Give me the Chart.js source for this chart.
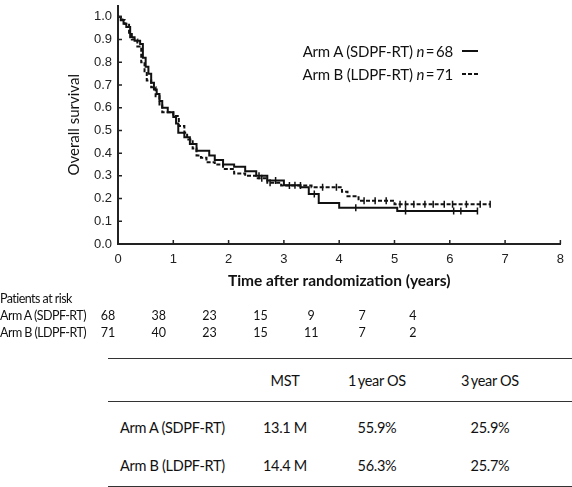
<!DOCTYPE html>
<html>
<head>
<meta charset="utf-8">
<script src="https://cdn.jsdelivr.net/npm/chart.js@4.4.1/dist/chart.umd.min.js"></script>
<style>
html, body { margin: 0; padding: 0; background: #fff; }
#wrap { position: relative; width: 572px; height: 487px; overflow: hidden; font-family: Lato, "Open Sans", sans-serif; color: #111; }
#km { position: absolute; left: 0; top: 0; }
.t { position: absolute; white-space: nowrap; line-height: 1; }
.c { transform: translate(-50%, -50%); }
.l { transform: translate(0, -50%); }
.r { transform: translate(-100%, -50%); }
.hr { position: absolute; left: 108px; width: 464px; height: 0; border-top: 1.5px solid #333; }
</style>
</head>
<body>
<div id="wrap">
  <canvas id="km" width="572" height="292"></canvas>
</div>
<script>
// Kaplan-Meier step values (time in years, survival)
const armA_t = [0, 0.05, 0.1, 0.15, 0.22, 0.3, 0.4, 0.45, 0.5, 0.55, 0.6, 0.65, 0.7, 0.75, 0.8, 0.9, 1.0, 1.05, 1.09, 1.2, 1.3, 1.42, 1.65, 1.75, 1.9, 2.1, 2.3, 2.5, 2.7, 3.0, 3.3, 3.45, 3.63, 4.0, 5.05, 6.5];
const armA_s = [1, 0.985, 0.97, 0.955, 0.91, 0.895, 0.88, 0.82, 0.78, 0.75, 0.71, 0.68, 0.66, 0.63, 0.60, 0.58, 0.559, 0.53, 0.49, 0.47, 0.44, 0.41, 0.39, 0.37, 0.35, 0.34, 0.32, 0.30, 0.28, 0.259, 0.25, 0.22, 0.18, 0.16, 0.145, 0.145];
const armB_t = [0, 0.08, 0.12, 0.2, 0.25, 0.35, 0.42, 0.48, 0.52, 0.6, 0.68, 0.75, 0.8, 1.0, 1.1, 1.2, 1.25, 1.35, 1.42, 1.5, 1.6, 1.75, 1.9, 2.1, 2.3, 2.5, 2.7, 2.95, 3.5, 4.05, 4.15, 4.35, 5.0, 6.73];
const armB_s = [1, 0.986, 0.97, 0.93, 0.90, 0.87, 0.80, 0.76, 0.72, 0.69, 0.65, 0.61, 0.58, 0.563, 0.52, 0.49, 0.46, 0.42, 0.39, 0.38, 0.36, 0.35, 0.33, 0.31, 0.30, 0.29, 0.27, 0.257, 0.25, 0.23, 0.21, 0.19, 0.175, 0.175];
// censoring times
const censorA = [2.55, 2.85, 3.2, 3.55, 4.3, 5.2, 6.07, 6.2, 6.5];
const censorB = [2.6, 2.75, 3.1, 3.3, 3.7, 3.95, 4.45, 4.65, 4.85, 5.1, 5.2, 5.35, 5.55, 5.7, 5.9, 6.05, 6.3, 6.55, 6.73];

const xTicks = [0, 1, 2, 3, 4, 5, 6, 7, 8];
const yTicks = [0, 0.1, 0.2, 0.3, 0.4, 0.5, 0.6, 0.7, 0.8, 0.9, 1.0];

const armLabels = ["Arm A (SDPF-RT)", "Arm B (LDPF-RT)"];
const armN = [68, 71];
const riskA = [68, 38, 23, 15, 9, 7, 4];
const riskB = [71, 40, 23, 15, 11, 7, 2];
const statHeaders = ["MST", "1\u2009year OS", "3\u2009year OS"];
const statA = ["13.1 M", "55.9%", "25.9%"];
const statB = ["14.4 M", "56.3%", "25.7%"];

function toPoints(ts, ss) {
    return ts.map((t, i) => ({ x: t, y: ss[i] }));
}
function survAt(ts, ss, t) {
    let s = ss[0];
    for (let i = 0; i < ts.length; i++) if (ts[i] <= t) s = ss[i];
    return s;
}
function censorPoints(ts, ss, cs) {
    return cs.map(c => ({ x: c, y: survAt(ts, ss, c) }));
}

// inward tick marks on both axes
const innerTicks = {
    id: "innerTicks",
    afterDraw(chart) {
        const { ctx, chartArea, scales } = chart;
        ctx.save();
        ctx.strokeStyle = "#222";
        ctx.lineWidth = 1.5;
        ctx.beginPath();
        xTicks.forEach(v => {
            const px = scales.x.getPixelForValue(v);
            ctx.moveTo(px, chartArea.bottom);
            ctx.lineTo(px, chartArea.bottom - 4);
        });
        yTicks.forEach(v => {
            const py = scales.y.getPixelForValue(v);
            ctx.moveTo(chartArea.left, py);
            ctx.lineTo(chartArea.left + 4, py);
        });
        ctx.stroke();
        ctx.restore();
    }
};

const tickFont = { family: "'Liberation Sans', Arial, sans-serif", size: 13 };

new Chart(document.getElementById("km"), {
    type: "line",
    data: {
        datasets: [
            {
                label: armLabels[0],
                data: toPoints(armA_t, armA_s),
                stepped: true,
                borderColor: "#111",
                borderWidth: 2,
                pointRadius: 0,
                fill: false,
            },
            {
                label: armLabels[1],
                data: toPoints(armB_t, armB_s),
                stepped: true,
                borderColor: "#111",
                borderWidth: 2,
                borderDash: [4, 2],
                pointRadius: 0,
                fill: false,
            },
            {
                type: "scatter",
                data: censorPoints(armA_t, armA_s, censorA),
                pointStyle: "line",
                rotation: 90,
                radius: 3.5,
                borderColor: "#111",
                borderWidth: 1.5,
            },
            {
                type: "scatter",
                data: censorPoints(armB_t, armB_s, censorB),
                pointStyle: "line",
                rotation: 90,
                radius: 3.5,
                borderColor: "#111",
                borderWidth: 1.5,
            },
        ],
    },
    options: {
        responsive: false,
        animation: false,
        devicePixelRatio: 1,
        layout: { padding: { top: 1.5, right: 9, left: 63, bottom: 0 } },
        plugins: { legend: { display: false }, tooltip: { enabled: false } },
        scales: {
            x: {
                type: "linear",
                min: 0,
                max: 8,
                afterBuildTicks: s => { s.ticks = xTicks.map(v => ({ value: v })); },
                afterFit: s => { s.height = 48; },
                grid: { display: false, drawTicks: false },
                border: { display: true, color: "#222", width: 2 },
                ticks: { font: tickFont, color: "#222", padding: 8, maxRotation: 0 },
                title: {
                    display: true,
                    text: "Time after randomization (years)",
                    font: { family: "Lato, 'Open Sans', sans-serif", size: 15.5, weight: "bold" },
                    color: "#111",
                    padding: { top: 2, bottom: 2 },
                },
            },
            y: {
                type: "linear",
                min: 0,
                max: 1.05,
                afterBuildTicks: s => { s.ticks = yTicks.map(v => ({ value: v })); },
                afterFit: s => { s.width = 55; s.paddingTop = 0; },
                grid: { display: false, drawTicks: false },
                border: { display: true, color: "#222", width: 2 },
                ticks: { font: tickFont, color: "#222", padding: 6, callback: v => v.toFixed(1) },
                title: {
                    display: true,
                    text: "Overall survival",
                    font: { family: "Lato, 'Open Sans', sans-serif", size: 15 },
                    color: "#111",
                    padding: { top: 2, bottom: 2 },
                },
            },
        },
    },
    plugins: [innerTicks],
});

// legend, risk table and summary table as HTML text
const wrap = document.getElementById("wrap");
function put(text, x, y, cls, style) {
    const d = document.createElement("div");
    d.className = "t " + cls;
    d.innerHTML = text;
    d.style.left = x + "px";
    d.style.top = y + "px";
    Object.assign(d.style, style || {});
    wrap.appendChild(d);
    return d;
}
function sample(x, y, dashed) {
    const s = document.createElementNS("http://www.w3.org/2000/svg", "svg");
    s.setAttribute("width", 18);
    s.setAttribute("height", 4);
    s.style.position = "absolute";
    s.style.left = x + "px";
    s.style.top = (y - 2) + "px";
    s.innerHTML = '<line x1="0" y1="2" x2="16" y2="2" stroke="#111" stroke-width="2"' +
        (dashed ? ' stroke-dasharray="4,2"' : "") + "/>";
    wrap.appendChild(s);
}

const legendFont = { fontSize: "15px", letterSpacing: "-0.2px" };
armLabels.forEach((lab, i) => {
    const y = 51 + i * 23;
    put(lab + " <i>n</i>\u2009=\u2009" + armN[i], 453, y, "r", legendFont);
    sample(462, y, i === 1);
});

const riskFont = { fontSize: "12.5px", letterSpacing: "-0.55px" };
const riskNumFont = { fontSize: "12.5px" };
put("Patients at risk", 0, 299, "l", riskFont);
[riskA, riskB].forEach((row, r) => {
    const y = 316 + r * 16.5;
    put(armLabels[r], 0, y, "l", riskFont);
    row.forEach((v, i) => put(String(v), 108 + i * 50.8, y, "c", riskNumFont));
});

[358, 401, 486].forEach(y => {
    const h = document.createElement("div");
    h.className = "hr";
    h.style.top = y + "px";
    wrap.appendChild(h);
});
const colX = [285, 377, 490];
const tabFont = { fontSize: "14.5px", letterSpacing: "-0.3px" };
statHeaders.forEach((h, i) => put(h, colX[i], 381, "c", tabFont));
[statA, statB].forEach((row, r) => {
    const y = 428 + r * 38;
    put(armLabels[r], 120, y, "l", tabFont);
    row.forEach((v, i) => put(v, colX[i], y, "c", tabFont));
});
</script>
</body>
</html>
